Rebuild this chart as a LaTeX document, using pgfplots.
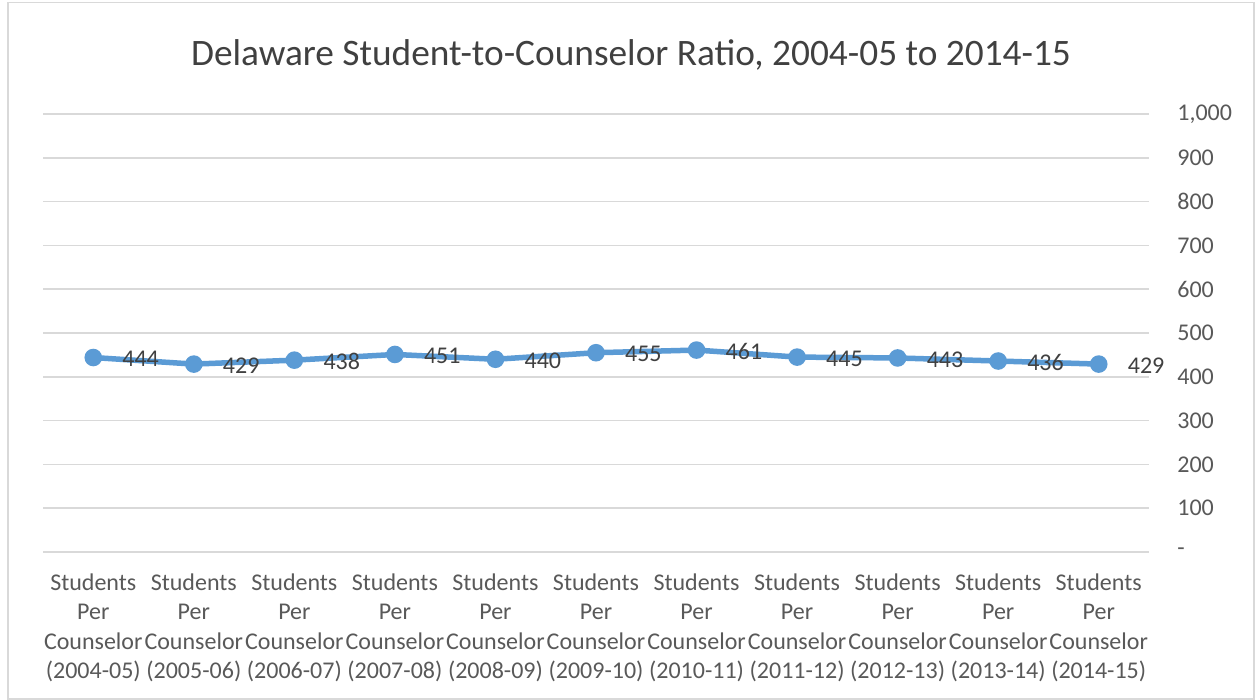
\documentclass[border=0pt]{standalone}
\usepackage{pgfplots}
\pgfplotsset{compat=1.18}
\usepackage{fontspec}
\setmainfont{Carlito}
\definecolor{linec}{HTML}{5B9BD5}
\definecolor{txt}{HTML}{404040}
\definecolor{tick}{HTML}{595959}
\definecolor{gridc}{HTML}{D9D9D9}
\begin{document}
\begin{tikzpicture}
% page is 1259x700 px at 0.6pt per px
\path[fill=white] (0pt,0pt) rectangle (755.4pt,420pt);
\draw[gridc, line width=0.8pt] (4.8pt,0.5pt) rectangle (752.4pt,418.5pt);
\node[font=\fontsize{22.4}{26}\selectfont, text=txt] at (378.6pt,387pt) {Delaware Student-to-Counselor Ratio, 2004-05 to 2014-15};
\begin{axis}[
    at={(25.8pt,88.8pt)}, anchor=south west,
    scale only axis,
    width=663.6pt, height=262.8pt,
    xmin=-0.5, xmax=10.5,
    ymin=0, ymax=1000,
    axis line style={draw=none},
    ytick pos=right,
    yticklabel pos=right,
    xtick pos=bottom,
    xtick={0,...,10},
    xticklabels={
      {Students\\Per\\Counselor\\(2004-05)},
      {Students\\Per\\Counselor\\(2005-06)},
      {Students\\Per\\Counselor\\(2006-07)},
      {Students\\Per\\Counselor\\(2007-08)},
      {Students\\Per\\Counselor\\(2008-09)},
      {Students\\Per\\Counselor\\(2009-10)},
      {Students\\Per\\Counselor\\(2010-11)},
      {Students\\Per\\Counselor\\(2011-12)},
      {Students\\Per\\Counselor\\(2012-13)},
      {Students\\Per\\Counselor\\(2013-14)},
      {Students\\Per\\Counselor\\(2014-15)}},
    x tick label style={align=center, font=\fontsize{14.4}{17.6}\selectfont, text=tick, yshift=-9.5pt},
    ytick={0,100,...,1000},
    yticklabels={-,100,200,300,400,500,600,700,800,900,{1,000}},
    y tick label style={anchor=west, xshift=13.5pt, font=\fontsize{14.4}{17}\selectfont, text=tick},
    tick style={draw=none},
    ymajorgrids,
    major grid style={gridc, line width=0.9pt},
    clip=false,
]
\addplot[linec, line width=3.3pt, mark=*, mark size=3.6pt, mark options={fill=linec, draw=linec},
    nodes near coords,
    every node near coord/.append style={anchor=west, xshift=12.5pt, yshift=-1pt,
      font=\fontsize{14.4}{17}\selectfont, text=txt,
      /pgf/number format/assume math mode=true}]
  coordinates {
    (0,444) (1,429) (2,438) (3,451) (4,440) (5,455)
    (6,461) (7,445) (8,443) (9,436) (10,429)
  };
\end{axis}
\end{tikzpicture}
\end{document}
